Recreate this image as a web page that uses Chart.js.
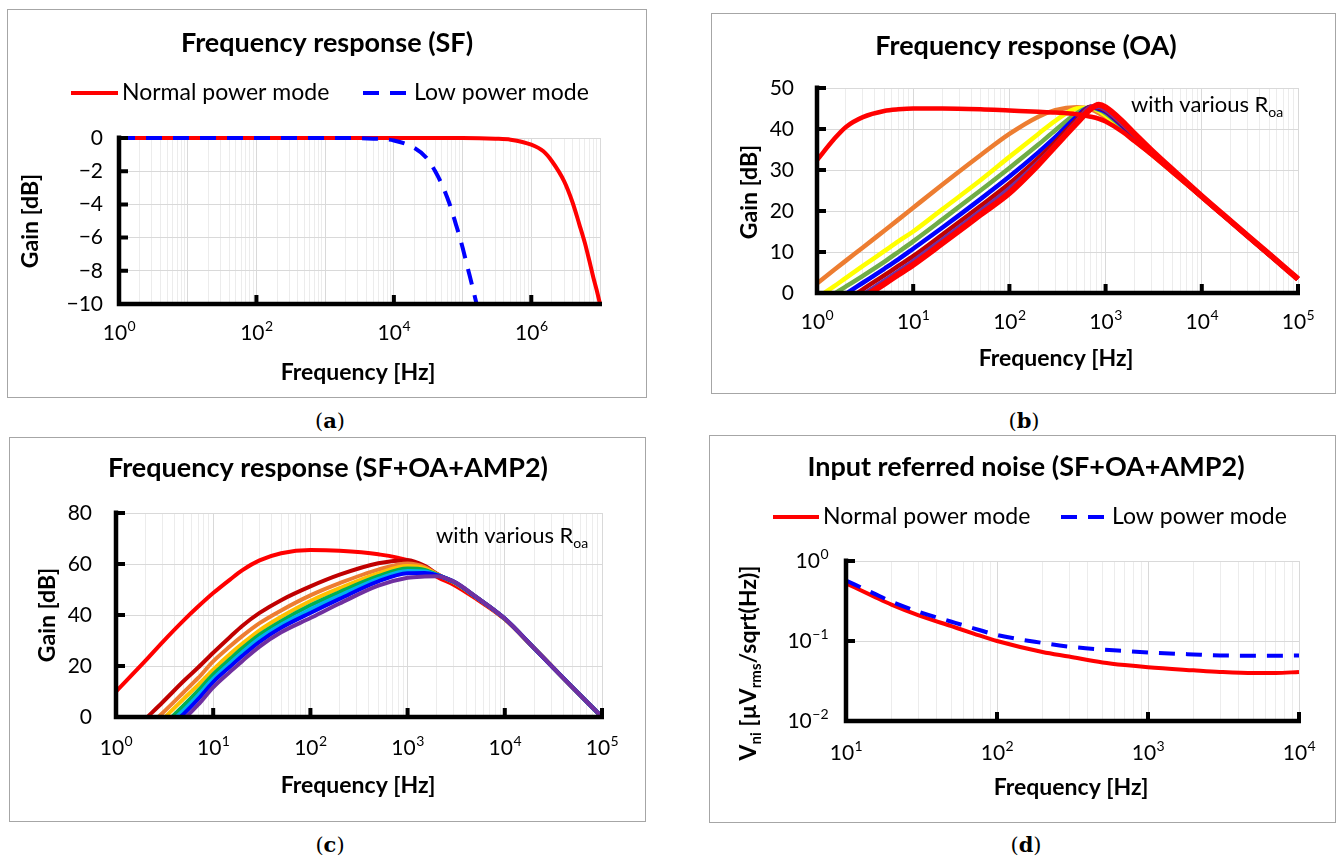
<!DOCTYPE html>
<html>
<head>
<meta charset="utf-8">
<script src="https://cdn.jsdelivr.net/npm/chart.js@4.4.0/dist/chart.umd.min.js"></script>
<style>
  body { margin: 0; background: #fff; width: 1337px; height: 859px; position: relative; overflow: hidden; }
  .box { position: absolute; box-sizing: border-box; border: 1px solid #a6a6a6; }
  canvas { position: absolute; }
  .cap { position: absolute; width: 60px; text-align: center; line-height: 26px; font: 21px "DejaVu Serif", "Liberation Serif", serif; color: #000; }
</style>
</head>
<body>
<div class="box" style="left:7px;top:9px;width:640px;height:389px"></div>
<div class="box" style="left:711px;top:13px;width:625px;height:381px"></div>
<div class="box" style="left:9px;top:437px;width:637px;height:385px"></div>
<div class="box" style="left:709px;top:435px;width:627px;height:388px"></div>
<canvas id="cA" width="640" height="389" style="left:7px;top:9px"></canvas>
<canvas id="cB" width="625" height="381" style="left:711px;top:13px"></canvas>
<canvas id="cC" width="637" height="385" style="left:9px;top:437px"></canvas>
<canvas id="cD" width="627" height="388" style="left:709px;top:435px"></canvas>
<div class="cap" style="left:300px;top:408px">(<b>a</b>)</div>
<div class="cap" style="left:994px;top:408px">(<b>b</b>)</div>
<div class="cap" style="left:300px;top:832px">(<b>c</b>)</div>
<div class="cap" style="left:996px;top:832px">(<b>d</b>)</div>
<script>
// ===============================
// DATA
// ===============================

// (a) SF
const freqNormalA = [1, 10, 100, 1000, 1e4, 1e5, 3e5, 5e5, 1e6, 1.5e6, 2e6, 3e6, 4e6, 5e6, 6e6, 7e6, 8e6, 9e6, 1e7];
const gainNormalA = [0, 0, 0, 0, 0, 0, -0.04, -0.1, -0.4, -0.8, -1.4, -2.6, -3.9, -5.2, -6.3, -7.4, -8.4, -9.2, -10];
const freqLowA = [1, 10, 100, 1000, 5000, 1e4, 2e4, 3e4, 4e4, 5e4, 6e4, 7e4, 8e4, 9e4, 1e5, 1.2e5, 1.4e5, 1.6e5];
const gainLowA = [0, 0, 0, 0, -0.04, -0.15, -0.6, -1.2, -2.0, -2.8, -3.6, -4.4, -5.2, -5.9, -6.6, -7.9, -9.0, -10.0];
const xTickValsA = [1, 100, 1e4, 1e6];
const xTickExpA = ['0', '2', '4', '6'];

// (b) OA, various Roa
const freqB = [1, 1.5, 2, 3, 5, 7, 10, 20, 50, 100, 200, 300, 500, 700, 850, 1000, 1500, 2000, 3000, 5000, 1e4, 2e4, 5e4, 1e5];
const gainB1 = [32.4, 37.5, 40.5, 42.9, 44.4, 44.8, 45.0, 45.0, 44.8, 44.5, 44.2, 44.0, 43.6, 43.0, 42.5, 41.8, 39.3, 37.0, 33.8, 29.4, 23.4, 17.4, 9.4, 3.4];
const gainB2 = [2.3, 5.6, 7.9, 11.1, 15.2, 17.9, 20.8, 26.4, 33.6, 38.8, 43.0, 44.6, 45.3, 44.8, 43.9, 42.8, 39.6, 37.2, 33.8, 29.4, 23.4, 17.4, 9.4, 3.4];
const gainB3 = [-1.2, 1.6, 3.7, 6.6, 10.2, 12.6, 15.0, 20.4, 27.5, 33.2, 38.8, 42.0, 45.0, 45.2, 44.4, 43.3, 40.0, 37.5, 34.0, 29.5, 23.5, 17.4, 9.4, 3.4];
const gainB4 = [-2.6, -0.2, 1.6, 4.2, 7.6, 10.0, 12.6, 17.9, 25.0, 30.5, 36.2, 39.7, 43.8, 45.3, 44.7, 43.8, 40.4, 37.8, 34.2, 29.6, 23.5, 17.4, 9.4, 3.4];
const gainB5 = [-4.6, -2.0, -0.2, 2.5, 5.9, 8.2, 10.8, 15.9, 22.9, 28.4, 34.3, 38.0, 43.0, 45.4, 44.9, 44.2, 40.7, 38.0, 34.3, 29.7, 23.5, 17.4, 9.4, 3.4];
const gainB6 = [-6.5, -3.9, -1.9, 0.9, 4.3, 6.6, 9.0, 14.2, 21.2, 26.7, 32.9, 36.8, 42.3, 45.4, 45.2, 44.5, 41.0, 38.2, 34.5, 29.8, 23.6, 17.5, 9.5, 3.4];
const gainB7 = [-8.0, -5.3, -3.3, -0.4, 3.0, 5.3, 7.8, 13.0, 20.0, 25.5, 31.9, 36.1, 41.8, 45.3, 45.4, 44.7, 41.2, 38.4, 34.6, 29.9, 23.6, 17.5, 9.5, 3.4];
const gainB8 = [-9.0, -6.3, -4.3, -1.2, 2.2, 4.5, 6.9, 12.1, 19.1, 24.4, 31.3, 35.8, 41.4, 44.9, 45.9, 45.3, 41.8, 38.8, 34.8, 30.0, 23.6, 17.5, 9.5, 3.4];
const xTickValsB = [1, 10, 100, 1e3, 1e4, 1e5];
const xTickExpB = ['0', '1', '2', '3', '4', '5'];

// (c) SF+OA+AMP2, various Roa
const freqC = [1, 2, 3, 5, 7, 10, 15, 20, 30, 50, 100, 200, 500, 1000, 1500, 2000, 3000, 5000, 1e4, 2e4, 5e4, 1e5];
const gainC1 = [10.0, 22.0, 29.3, 38.0, 43.3, 48.6, 54.0, 57.6, 61.4, 64.2, 65.5, 65.2, 63.8, 61.5, 58.5, 55.0, 51.8, 46.5, 38.3, 27.0, 11.5, 0];
const gainC2 = [-12, -0.8, 5.7, 14.2, 19.4, 25.2, 31.5, 35.8, 40.8, 45.8, 51.2, 55.8, 60.3, 61.5, 59.3, 56.2, 52.6, 47.0, 38.5, 27.0, 11.5, 0];
const gainC3 = [-14, -4.5, 1.5, 9.8, 15.3, 21.8, 27.8, 31.8, 36.8, 41.8, 47.7, 52.5, 57.8, 60.2, 58.8, 56.0, 52.7, 47.1, 38.5, 27.0, 11.5, 0];
const gainC4 = [-16, -7, -1, 7.2, 12.6, 18.6, 24.8, 28.8, 34.0, 39.3, 45.5, 50.5, 56.3, 59.2, 58.3, 55.9, 52.8, 47.1, 38.5, 27.0, 11.5, 0];
const gainC5 = [-18, -9, -3.5, 4.6, 10.3, 16.7, 22.8, 27.0, 32.3, 37.6, 43.8, 49.0, 55.2, 58.2, 57.7, 55.8, 52.9, 47.2, 38.5, 27.0, 11.5, 0];
const gainC6 = [-19, -10, -4.8, 2.8, 8.5, 15.0, 21.2, 25.4, 30.8, 36.2, 42.2, 47.6, 54.2, 57.3, 57.1, 55.7, 53.0, 47.2, 38.6, 27.0, 11.5, 0];
const gainC7 = [-20, -11, -6, 1.3, 7.0, 13.7, 19.8, 24.0, 29.5, 35.0, 40.8, 46.3, 53.2, 56.4, 56.5, 55.6, 53.0, 47.2, 38.6, 27.0, 11.5, 0];
const gainC8 = [-22, -13, -8, -0.8, 4.8, 11.6, 17.8, 22.0, 27.6, 33.2, 38.8, 44.5, 51.5, 54.6, 55.1, 55.2, 53.1, 47.3, 38.6, 27.0, 11.5, 0];

// (d) input referred noise
const freqD = [10, 15, 20, 30, 50, 70, 100, 200, 300, 500, 700, 1000, 2000, 3000, 5000, 7000, 10000];
const vniNormalD = [0.525, 0.367, 0.285, 0.211, 0.153, 0.124, 0.100, 0.073, 0.064, 0.054, 0.050, 0.047, 0.043, 0.041, 0.0397, 0.0398, 0.041];
const vniLowD = [0.57, 0.40, 0.31, 0.233, 0.174, 0.144, 0.119, 0.0946, 0.085, 0.078, 0.075, 0.072, 0.068, 0.066, 0.0655, 0.0655, 0.066];
const xTickValsD = [10, 100, 1e3, 1e4];
const xTickExpD = ['1', '2', '3', '4'];
const yTickValsD = [0.01, 0.1, 1];
const yTickExpD = ['\u22122', '\u22121', '0'];

// ===============================
// HELPERS
// ===============================

const FONT = 'Lato, "Noto Sans", "DejaVu Sans", sans-serif';
const TICK_SIZE = 21;

function font(size, bold) {
  return (bold ? 'bold ' : '') + size + 'px ' + FONT;
}

function isDecade(v) {
  const l = Math.log10(v);
  return Math.abs(l - Math.round(l)) < 1e-9;
}

// 1..9 x 10^n gridline positions
function logTicks(min, max) {
  const out = [];
  for (let e = Math.round(Math.log10(min)); Math.pow(10, e) <= max; e++) {
    for (let m = 1; m < 10; m++) {
      const v = m * Math.pow(10, e);
      if (v >= min && v <= max) out.push(v);
    }
  }
  return out;
}

function line(label, xs, ys, color, width, order, dash) {
  return {
    label,
    order,
    data: xs.map((x, i) => ({ x, y: ys[i] })),
    borderColor: color,
    borderWidth: width,
    borderDash: dash || [],
    pointRadius: 0,
    fill: false,
    cubicInterpolationMode: 'monotone',
    clip: { left: 4, top: 4, right: 4, bottom: 0 }
  };
}

// text with subscript parts: [[text], [text, 1 = sub]]
function drawRich(ctx, parts, x, y, size, bold, align) {
  const sub = Math.round(size * 0.64);
  const widths = parts.map(([t, s]) => {
    ctx.font = font(s ? sub : size, bold);
    return ctx.measureText(t).width;
  });
  const total = widths.reduce((a, b) => a + b, 0);
  let cx = align === 'center' ? x - total / 2 : x;
  ctx.textAlign = 'left';
  ctx.textBaseline = 'middle';
  parts.forEach(([t, s], i) => {
    ctx.font = font(s ? sub : size, bold);
    ctx.fillText(t, cx, y + (s ? size * 0.32 : 0));
    cx += widths[i];
  });
}

// "10" with a raised exponent
function drawPow(ctx, exp, x, y, align) {
  const es = 14;
  ctx.font = font(TICK_SIZE, false);
  const wb = ctx.measureText('10').width;
  ctx.font = font(es, false);
  const we = ctx.measureText(exp).width;
  let cx = align === 'center' ? x - (wb + we) / 2 : x - wb - we;
  ctx.textAlign = 'left';
  ctx.textBaseline = 'middle';
  ctx.font = font(TICK_SIZE, false);
  ctx.fillText('10', cx, y);
  ctx.font = font(es, false);
  ctx.fillText(exp, cx + wb + 0.5, y - 6.5);
}

// ===============================
// PANEL DECORATION (axes, titles, legend)
// ===============================

const DECOR = {
  cA: {
    title: 'Frequency response (SF)', titleAt: [320, 34],
    legendY: 84, legend: [{ ds: 0, x0: 64, x1: 111, tx: 115 }, { ds: 1, x0: 356, x1: 401, tx: 407 }],
    xTitle: [351, 364], yTitle: [24, 212], yText: [['Gain [dB]']],
    xVals: xTickValsA, xExp: xTickExpA, xLabelDy: 29
  },
  cB: {
    title: 'Frequency response (OA)', titleAt: [315, 33],
    note: [420, 92],
    xTitle: [345, 346], yTitle: [39, 179], yText: [['Gain [dB]']],
    xVals: xTickValsB, xExp: xTickExpB, xLabelDy: 29
  },
  cC: {
    title: 'Frequency response (SF+OA+AMP2)', titleAt: [319, 31],
    note: [427, 99],
    xTitle: [349, 349], yTitle: [39, 178], yText: [['Gain [dB]']],
    xVals: xTickValsB, xExp: xTickExpB, xLabelDy: 31
  },
  cD: {
    title: 'Input referred noise (SF+OA+AMP2)', titleAt: [317, 32],
    legendY: 82, legend: [{ ds: 0, x0: 64, x1: 110, tx: 114 }, { ds: 1, x0: 352, x1: 397, tx: 403 }],
    xTitle: [362, 353], yTitle: [40, 228],
    yText: [['V'], ['ni', 1], [' [µV'], ['rms', 1], ['/sqrt(Hz)]']],
    xVals: xTickValsD, xExp: xTickExpD, xLabelDy: 32,
    yVals: yTickValsD, yExp: yTickExpD
  }
};

const decor = {
  id: 'decor',
  afterDatasetsDraw(chart) {
    const o = DECOR[chart.canvas.id];
    const { ctx, chartArea: a } = chart;
    const xs = chart.scales.x, ys = chart.scales.y;
    ctx.save();
    ctx.strokeStyle = '#000';
    ctx.setLineDash([]);
    ctx.lineWidth = 4.5;
    ctx.beginPath();
    ctx.moveTo(a.left, a.top - 2.5);
    ctx.lineTo(a.left, a.bottom + 2.25);
    ctx.moveTo(a.left - 2.25, a.bottom);
    ctx.lineTo(a.right + 2, a.bottom);
    ctx.stroke();
    ctx.lineWidth = 4;
    ctx.beginPath();
    ys.ticks.forEach(t => {
      const py = ys.getPixelForValue(t.value);
      ctx.moveTo(a.left, py);
      ctx.lineTo(a.left + 9, py);
    });
    o.xVals.forEach(v => {
      const px = xs.getPixelForValue(v);
      ctx.moveTo(px, a.bottom);
      ctx.lineTo(px, a.bottom - 9);
    });
    ctx.stroke();
    ctx.restore();
  },
  afterDraw(chart) {
    const o = DECOR[chart.canvas.id];
    const { ctx, chartArea: a } = chart;
    const xs = chart.scales.x, ys = chart.scales.y;
    ctx.save();
    ctx.fillStyle = '#000';

    // power-of-ten tick labels, placed by the chart scales
    o.xVals.forEach((v, i) => drawPow(ctx, o.xExp[i], xs.getPixelForValue(v), a.bottom + o.xLabelDy, 'center'));
    if (o.yVals) {
      o.yVals.forEach((v, i) => drawPow(ctx, o.yExp[i], a.left - 18, ys.getPixelForValue(v), 'right'));
    }

    drawRich(ctx, [[o.title]], o.titleAt[0], o.titleAt[1], 27, true, 'center');

    if (o.legend) {
      o.legend.forEach(it => {
        const ds = chart.data.datasets[it.ds];
        ctx.strokeStyle = ds.borderColor;
        ctx.lineWidth = ds.borderWidth;
        ctx.setLineDash(ds.borderDash);
        ctx.beginPath();
        ctx.moveTo(it.x0, o.legendY);
        ctx.lineTo(it.x1, o.legendY);
        ctx.stroke();
        ctx.setLineDash([]);
        drawRich(ctx, [[ds.label]], it.tx, o.legendY, 23, false, 'left');
      });
    }

    if (o.note) {
      drawRich(ctx, [['with various R'], ['oa', 1]], o.note[0], o.note[1], 22, false, 'left');
    }

    drawRich(ctx, [['Frequency [Hz]']], o.xTitle[0], o.xTitle[1], 23, true, 'center');
    ctx.translate(o.yTitle[0], o.yTitle[1]);
    ctx.rotate(-Math.PI / 2);
    drawRich(ctx, o.yText, 0, 0, 23, true, 'center');
    ctx.restore();
  }
};

// ===============================
// SCALES
// ===============================

function logX(min, max, bottomH) {
  return {
    type: 'logarithmic', min, max,
    afterBuildTicks: s => { s.ticks = logTicks(min, max).map(v => ({ value: v })); },
    afterFit: s => { s.height = bottomH; },
    grid: { color: c => (c.tick && isDecade(c.tick.value)) ? '#d9d9d9' : '#ececec', lineWidth: 1, drawTicks: false },
    border: { display: false },
    ticks: { display: false, autoSkip: false, maxRotation: 0 }
  };
}

function linY(min, max, step, pad, leftW) {
  return {
    type: 'linear', min, max,
    afterFit: s => { s.width = leftW; },
    grid: { color: '#d9d9d9', lineWidth: 1, drawTicks: false },
    border: { display: false },
    ticks: {
      stepSize: step, padding: pad, color: '#000', font: { family: FONT, size: TICK_SIZE },
      callback: v => (v < 0 ? '\u2212' + (-v) : String(v))
    }
  };
}

function makeChart(id, area, xScale, yScale, datasets) {
  const cv = document.getElementById(id);
  return new Chart(cv, {
    type: 'line',
    data: { datasets },
    options: {
      responsive: false,
      animation: false,
      devicePixelRatio: 1,
      layout: { padding: { left: 0, top: area.top, right: cv.width - area.right, bottom: 0 } },
      plugins: { legend: { display: false }, tooltip: { enabled: false }, title: { display: false } },
      scales: { x: xScale, y: yScale }
    },
    plugins: [decor]
  });
}

// ===============================
// CHARTS
// ===============================

// (a)
makeChart('cA', { left: 112, right: 593, top: 129, bottom: 295 },
  logX(1, 1e7, 389 - 295),
  linY(-10, 0, 2, 16, 112),
  [
    line('Normal power mode', freqNormalA, gainNormalA, '#ff0000', 4, 2),
    line('Low power mode', freqLowA, gainLowA, '#0000ff', 4, 1, [16, 11])
  ]);

// (b)
makeChart('cB', { left: 106, right: 587, top: 75, bottom: 280 },
  logX(1, 1e5, 381 - 280),
  linY(0, 50, 10, 23, 106),
  [
    line('R1', freqB, gainB2, '#ed7d31', 4.5, 8),
    line('R2', freqB, gainB3, '#ffff00', 4.5, 7),
    line('R3', freqB, gainB4, '#70ad47', 4.5, 6),
    line('R4', freqB, gainB5, '#0000ff', 4.5, 5),
    line('R5', freqB, gainB6, '#c00000', 4.5, 4),
    line('R6', freqB, gainB7, '#7030a0', 4.5, 3),
    line('R7', freqB, gainB8, '#ff0000', 6, 2),
    line('R0', freqB, gainB1, '#ff0000', 4.5, 1)
  ]);

// (c)
makeChart('cC', { left: 107, right: 593, top: 76, bottom: 280 },
  logX(1, 1e5, 385 - 280),
  linY(0, 80, 20, 24, 107),
  [
    line('R0', freqC, gainC1, '#ff0000', 4, 8),
    line('R1', freqC, gainC2, '#c00000', 4, 7),
    line('R2', freqC, gainC3, '#ed7d31', 4, 6),
    line('R3', freqC, gainC4, '#ffc000', 4, 5),
    line('R4', freqC, gainC5, '#00b050', 4, 4),
    line('R5', freqC, gainC6, '#00b0f0', 4, 3),
    line('R6', freqC, gainC7, '#0000ff', 4, 2),
    line('R7', freqC, gainC8, '#7030a0', 4, 1)
  ]);

// (d)
makeChart('cD', { left: 137, right: 590, top: 126, bottom: 286 },
  logX(10, 1e4, 388 - 286),
  {
    type: 'logarithmic', min: 0.01, max: 1,
    afterBuildTicks: s => { s.ticks = yTickValsD.map(v => ({ value: v })); },
    afterFit: s => { s.width = 137; },
    grid: { color: '#d9d9d9', lineWidth: 1, drawTicks: false },
    border: { display: false },
    ticks: { display: false }
  },
  [
    line('Normal power mode', freqD, vniNormalD, '#ff0000', 4, 2),
    line('Low power mode', freqD, vniLowD, '#0000ff', 4, 1, [16, 11])
  ]);
</script>
</body>
</html>
